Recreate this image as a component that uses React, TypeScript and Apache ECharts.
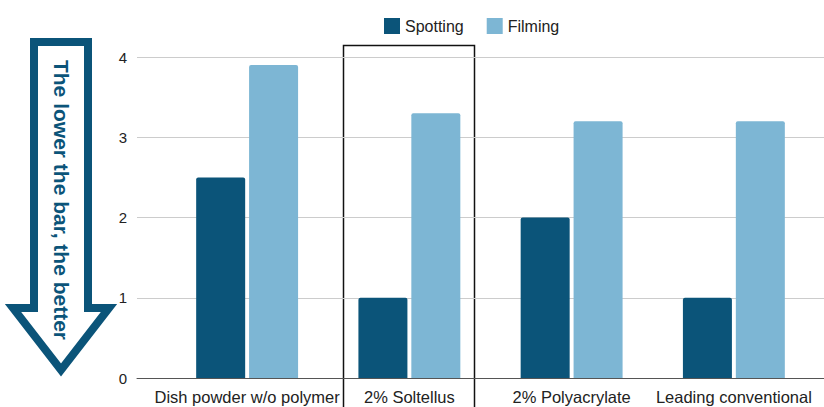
import React, { useEffect, useRef } from "react";
import * as echarts from "echarts";

const categories = ["Dish powder w/o polymer", "2% Soltellus", "2% Polyacrylate", "Leading conventional"];
const spotting = [2.5, 1, 2, 1];
const filming = [3.9, 3.3, 3.2, 3.2];
const yTicks = [0, 1, 2, 3, 4];
const arrowText = "The lower the bar, the better";

const DARK = "#0b5479";
const LIGHT = "#7db6d4";
const FONT = "Liberation Sans";

export default function App() {
  const ref = useRef<HTMLDivElement>(null);
  useEffect(() => {
    document.body.style.margin = "0";
    const chart = echarts.init(ref.current!, null, { renderer: "svg" });
    chart.setOption({
      animation: false,
      textStyle: { fontFamily: FONT },
      legend: {
        top: 13,
        left: 379,
        itemWidth: 16,
        itemHeight: 16,
        itemGap: 23,
        icon: "rect",
        textStyle: { fontSize: 16, color: "#222", fontFamily: FONT },
        data: ["Spotting", "Filming"],
      },
      grid: [
        { left: 137, right: 0, top: 57, bottom: 29 },
        { left: 166, right: 9, top: 57, bottom: 29 },
      ],
      xAxis: [
        {
          gridIndex: 0,
          type: "value",
          min: 0,
          max: 1,
          axisLine: { show: true, onZero: false, lineStyle: { color: "#555", width: 1 } },
          axisTick: { show: false },
          axisLabel: { show: false },
          splitLine: { show: false },
        },
        {
          gridIndex: 1,
          type: "category",
          data: categories,
          axisLine: { show: false },
          axisTick: { show: false },
          axisLabel: { fontSize: 16.5, color: "#222", margin: 10, interval: 0, fontFamily: FONT },
        },
      ],
      yAxis: [
        {
          gridIndex: 0,
          type: "value",
          min: yTicks[0],
          max: yTicks[yTicks.length - 1],
          interval: 1,
          axisLine: { show: false },
          axisTick: { show: false },
          axisLabel: { fontSize: 15, color: "#222", margin: 10, fontFamily: FONT },
          splitLine: { lineStyle: { color: "#cccccc", width: 1 } },
        },
        {
          gridIndex: 1,
          type: "value",
          min: yTicks[0],
          max: yTicks[yTicks.length - 1],
          interval: 1,
          show: false,
        },
      ],
      series: [
        {
          name: "Spotting",
          type: "bar",
          xAxisIndex: 1,
          yAxisIndex: 1,
          data: spotting,
          barWidth: 49,
          barGap: "8%",
          itemStyle: { color: DARK, borderRadius: [2, 2, 0, 0] },
        },
        {
          name: "Filming",
          type: "bar",
          xAxisIndex: 1,
          yAxisIndex: 1,
          data: filming,
          barWidth: 49,
          barGap: "8%",
          itemStyle: { color: LIGHT, borderRadius: [2, 2, 0, 0] },
        },
      ],
      graphic: [
        {
          type: "polygon",
          shape: {
            points: [
              [34, 42],
              [88, 42],
              [88, 308],
              [109, 308],
              [61, 370],
              [13, 308],
              [34, 308],
            ],
          },
          style: { fill: "#fff", stroke: DARK, lineWidth: 8, lineJoin: "miter" },
        },
        {
          type: "text",
          x: 61,
          y: 200,
          rotation: -Math.PI / 2,
          style: {
            text: arrowText,
            fill: DARK,
            font: `bold 21px "${FONT}"`,
            align: "center",
            verticalAlign: "middle",
          },
        },
        {
          type: "rect",
          shape: { x: 343.5, y: 45.5, width: 131, height: 370 },
          style: { fill: "none", stroke: "#111", lineWidth: 1.5 },
        },
      ],
    });
    return () => chart.dispose();
  }, []);
  return <div ref={ref} style={{ width: 824, height: 407 }} />;
}
